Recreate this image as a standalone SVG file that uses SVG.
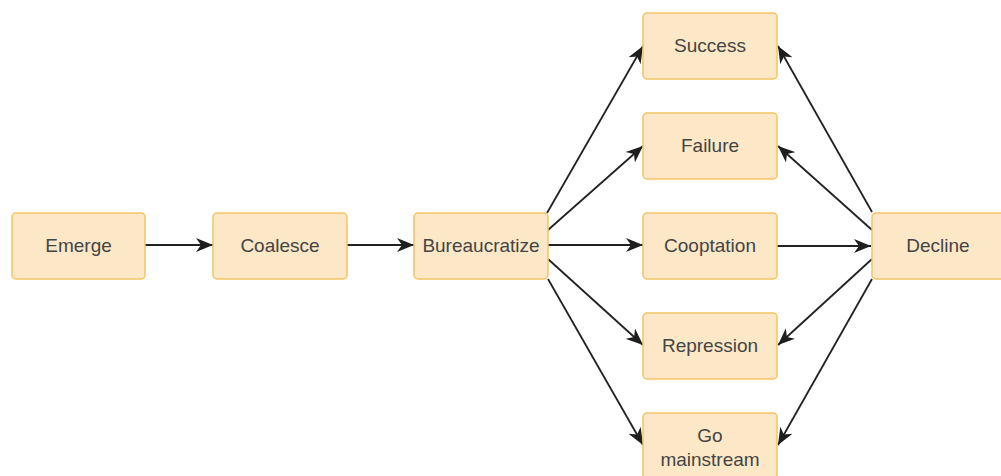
<svg xmlns="http://www.w3.org/2000/svg" width="1001" height="476" viewBox="0 0 1001 476">
<style>
.box{fill:#fce8c7;stroke:#f2c464;stroke-width:1.5}
.lbl{font-family:"Liberation Sans",Arial,sans-serif;font-size:19px;fill:#444;text-anchor:middle;dominant-baseline:central}
.c{stroke:#222;stroke-width:1.8;fill:none;marker-end:url(#ah)}
</style>
<defs>
<marker id="ah" markerUnits="userSpaceOnUse" markerWidth="19" markerHeight="15" refX="17" refY="7.5" orient="auto" viewBox="0 0 19 15">
<path d="M0,0.5 L17,7.5 L0,14.5 L5,7.5 Z" fill="#1e1e1e"/>
</marker>
</defs>
<rect width="1001" height="476" fill="#fff"/>
<g id="connectors">
<line class="c" x1="145" y1="245" x2="213" y2="245"/>
<line class="c" x1="347" y1="245" x2="414" y2="245"/>
<line class="c" x1="548" y1="245" x2="643" y2="245"/>
<line class="c" x1="547" y1="213" x2="643" y2="46"/>
<line class="c" x1="548" y1="230" x2="643" y2="146"/>
<line class="c" x1="548" y1="259" x2="643" y2="345"/>
<line class="c" x1="548" y1="279" x2="643" y2="445"/>
<line class="c" x1="777" y1="246" x2="871" y2="246"/>
<line class="c" x1="872" y1="212" x2="778" y2="46"/>
<line class="c" x1="872" y1="230" x2="778" y2="146"/>
<line class="c" x1="872" y1="259" x2="778" y2="345"/>
<line class="c" x1="872" y1="279" x2="778" y2="445"/>
</g>
<g id="emerge"><rect class="box" x="12" y="213" width="133" height="66" rx="4"/><text class="lbl" x="78.5" y="245">Emerge</text></g>
<g id="coalesce"><rect class="box" x="213" y="213" width="134" height="66" rx="4"/><text class="lbl" x="280" y="245">Coalesce</text></g>
<g id="bureaucratize"><rect class="box" x="414" y="213" width="134" height="66" rx="4"/><text class="lbl" x="481" y="245">Bureaucratize</text></g>
<g id="success"><rect class="box" x="643" y="13" width="134" height="66" rx="4"/><text class="lbl" x="710" y="45">Success</text></g>
<g id="failure"><rect class="box" x="643" y="113" width="134" height="66" rx="4"/><text class="lbl" x="710" y="145">Failure</text></g>
<g id="cooptation"><rect class="box" x="643" y="213" width="134" height="66" rx="4"/><text class="lbl" x="710" y="245">Cooptation</text></g>
<g id="repression"><rect class="box" x="643" y="313" width="134" height="66" rx="4"/><text class="lbl" x="710" y="345">Repression</text></g>
<g id="go-mainstream"><rect class="box" x="643" y="413" width="134" height="66" rx="4"/><text class="lbl" x="710" y="435">Go</text><text class="lbl" x="710" y="459">mainstream</text></g>
<g id="decline"><rect class="box" x="872" y="213" width="134" height="66" rx="4"/><text class="lbl" x="938" y="245">Decline</text></g>
</svg>
